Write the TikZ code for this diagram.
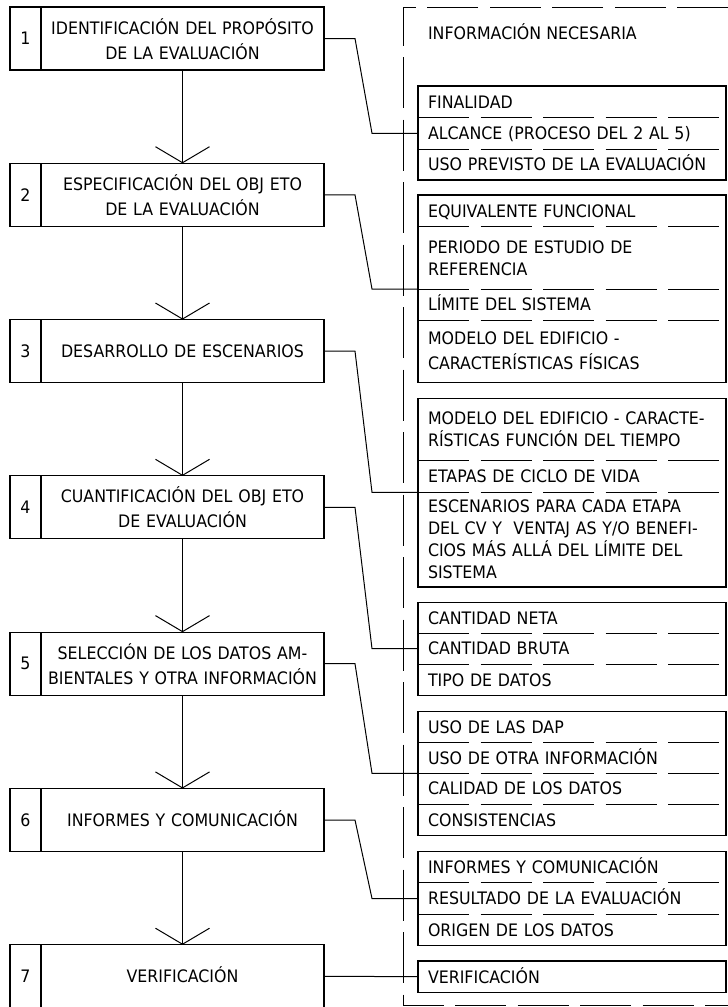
\documentclass[tikz,border=0pt]{standalone}
\usepackage{fontspec}
\setmainfont{DejaVu Sans}[FakeStretch=0.92]
\usetikzlibrary{arrows.meta,calc}

% struts that centre capital letters in a row
\newcommand\rowtop{\rule{0pt}{15.5pt}}
\newcommand\rowbot{\rule[-3pt]{0pt}{3pt}}
\newcommand\rowtoptall{\rule{0pt}{19pt}}

\begin{document}
\begin{tikzpicture}[x=1pt,y=-1pt,
  every node/.style={font=\fontsize{17.2}{22}\selectfont, inner sep=0pt, outer sep=0pt},
  numbox/.style={draw, line width=1.1pt, minimum width=31pt, minimum height=63pt,
    anchor=north west, execute at begin node=\rowtop, execute at end node=\rowbot},
  stepbox/.style={draw, line width=1.1pt, minimum width=283pt, minimum height=63pt,
    text width=279pt, align=center, anchor=north west,
    font=\fontsize{17.2}{25}\selectfont,
    execute at begin node=\rowtop, execute at end node=\rowbot},
  steptwo/.style={stepbox, execute at begin node=\rowtoptall},
  inforow/.style={minimum width=304pt, text width=288pt, inner xsep=10pt,
    align=left, anchor=north west,
    execute at begin node=\rowtop, execute at end node=\rowbot},
  infoframe/.style={draw, line width=1.1pt},
  divider/.style={line width=1pt, dash pattern=on 51pt off 11.5pt},
  outline/.style={line width=1pt, dash pattern=on 51pt off 11.5pt},
  flow/.style={line width=1pt, -{Straight Barb[length=16pt,width=54pt]}},
  link/.style={line width=1pt}]

\useasboundingbox (0,0) rectangle (728,1007);

% ---------- process steps ----------
\node[numbox] (n1) at (10,7) {1};
\node[steptwo] (b1) at (41,7) {IDENTIFICACIÓN DEL PROPÓSITO\\DE LA EVALUACIÓN};
\node[numbox] (n2) at (10,163.3) {2};
\node[steptwo] (b2) at (41,163.3) {ESPECIFICACIÓN DEL OBJ ETO\\DE LA EVALUACIÓN};
\node[numbox] (n3) at (10,319.6) {3};
\node[stepbox] (b3) at (41,319.6) {DESARROLLO DE ESCENARIOS};
\node[numbox] (n4) at (10,475.9) {4};
\node[steptwo] (b4) at (41,475.9) {CUANTIFICACIÓN DEL OBJ ETO\\DE EVALUACIÓN};
\node[numbox] (n5) at (10,632.2) {5};
\node[steptwo] (b5) at (41,632.2) {SELECCIÓN DE LOS DATOS AM-\\BIENTALES Y OTRA INFORMACIÓN};
\node[numbox] (n6) at (10,788.5) {6};
\node[stepbox] (b6) at (41,788.5) {INFORMES Y COMUNICACIÓN};
\node[numbox] (n7) at (10,944.8) {7};
\node[stepbox] (b7) at (41,944.8) {VERIFICACIÓN};

\draw[flow] (b1.south) -- (b2.north);
\draw[flow] (b2.south) -- (b3.north);
\draw[flow] (b3.south) -- (b4.north);
\draw[flow] (b4.south) -- (b5.north);
\draw[flow] (b5.south) -- (b6.north);
\draw[flow] (b6.south) -- (b7.north);

% ---------- required information ----------
\draw[outline] (728,7) -| (403,1005) -- (728,1005);
\node[anchor=west, execute at begin node=\rowtop, execute at end node=\rowbot]
  (hdr) at (428,33) {INFORMACIÓN NECESARIA};

% group 1
\node[inforow, minimum height=31.5pt] (g1a) at (418,86) {FINALIDAD};
\node[inforow, minimum height=31.5pt] (g1b) at (418,117.5) {ALCANCE (PROCESO DEL 2 AL 5)};
\node[inforow, minimum height=31pt] (g1c) at (418,149) {USO PREVISTO DE LA EVALUACIÓN};
\draw[infoframe] (g1a.north west) rectangle (g1c.south east);
\draw[divider] (g1b.north west) -- (g1b.north east);
\draw[divider] (g1c.north west) -- (g1c.north east);

% group 2
\node[inforow, minimum height=31.7pt] (g2a) at (418,195) {EQUIVALENTE FUNCIONAL};
\node[inforow, minimum height=62.3pt] (g2b) at (418,226.7) {PERIODO DE ESTUDIO DE\\REFERENCIA};
\node[inforow, minimum height=31pt] (g2c) at (418,289) {LÍMITE DEL SISTEMA};
\node[inforow, minimum height=62.3pt, font=\fontsize{17.2}{25}\selectfont] (g2d) at (418,320)
  {MODELO DEL EDIFICIO -\\CARACTERÍSTICAS FÍSICAS};
\draw[infoframe] (g2a.north west) rectangle (g2d.south east);
\draw[divider] (g2b.north west) -- (g2b.north east);
\draw[divider] (g2c.north west) -- (g2c.north east);
\draw[divider] (g2d.north west) -- (g2d.north east);

% group 3
\node[inforow, minimum height=61.7pt] (g3a) at (418,398.3)
  {MODELO DEL EDIFICIO - CARACTE-\\RÍSTICAS FUNCIÓN DEL TIEMPO};
\node[inforow, minimum height=32.3pt] (g3b) at (418,460) {ETAPAS DE CICLO DE VIDA};
\node[inforow, minimum height=94.7pt] (g3c) at (418,492.3)
  {ESCENARIOS PARA CADA ETAPA\\DEL CV Y~ VENTAJ AS Y/O BENEFI-\\CIOS MÁS ALLÁ DEL LÍMITE DEL\\SISTEMA};
\draw[infoframe] (g3a.north west) rectangle (g3c.south east);
\draw[divider] (g3b.north west) -- (g3b.north east);
\draw[divider] (g3c.north west) -- (g3c.north east);

% group 4
\node[inforow, minimum height=31pt] (g4a) at (418,602.3) {CANTIDAD NETA};
\node[inforow, minimum height=30.7pt] (g4b) at (418,633.3) {CANTIDAD BRUTA};
\node[inforow, minimum height=31.7pt] (g4c) at (418,664) {TIPO DE DATOS};
\draw[infoframe] (g4a.north west) rectangle (g4c.south east);
\draw[divider] (g4b.north west) -- (g4b.north east);
\draw[divider] (g4c.north west) -- (g4c.north east);

% group 5
\node[inforow, minimum height=30.6pt] (g5a) at (418,711.7) {USO DE LAS DAP};
\node[inforow, minimum height=31pt] (g5b) at (418,742.3) {USO DE OTRA INFORMACIÓN};
\node[inforow, minimum height=30.7pt] (g5c) at (418,773.3) {CALIDAD DE LOS DATOS};
\node[inforow, minimum height=31.7pt] (g5d) at (418,804) {CONSISTENCIAS};
\draw[infoframe] (g5a.north west) rectangle (g5d.south east);
\draw[divider] (g5b.north west) -- (g5b.north east);
\draw[divider] (g5c.north west) -- (g5c.north east);
\draw[divider] (g5d.north west) -- (g5d.north east);

% group 6
\node[inforow, minimum height=31pt] (g6a) at (418,851.7) {INFORMES Y COMUNICACIÓN};
\node[inforow, minimum height=31.6pt] (g6b) at (418,882.7) {RESULTADO DE LA EVALUACIÓN};
\node[inforow, minimum height=31.4pt] (g6c) at (418,914.3) {ORIGEN DE LOS DATOS};
\draw[infoframe] (g6a.north west) rectangle (g6c.south east);
\draw[divider] (g6b.north west) -- (g6b.north east);
\draw[divider] (g6c.north west) -- (g6c.north east);

% group 7
\node[inforow, minimum height=31.3pt] (g7a) at (418,961) {VERIFICACIÓN};
\draw[infoframe] (g7a.north west) rectangle (g7a.south east);

% ---------- links from steps to their information ----------
\draw[link] (b1.east) -- ++(31,0) -- ($(g1b.west)+(-46,0)$) -- (g1b.west);
\draw[link] (b2.east) -- ++(31,0) -- ($(g2c.north west)+(-46,0)$) -- (g2c.north west);
\draw[link] (b3.east) -- ++(31,0) -- ($(g3c.north west)+(-46,0)$) -- (g3c.north west);
\draw[link] (b4.east) -- ++(31,0) -- ($(g4b.west)+(-46,0)$) -- (g4b.west);
\draw[link] (b5.east) -- ++(31,0) -- ($(g5c.north west)+(-46,0)$) -- (g5c.north west);
\draw[link] (b6.east) -- ++(31,0) -- ($(g6b.west)+(-46,0)$) -- (g6b.west);
\draw[link] (b7.east) -- (g7a.west);
\end{tikzpicture}
\end{document}
